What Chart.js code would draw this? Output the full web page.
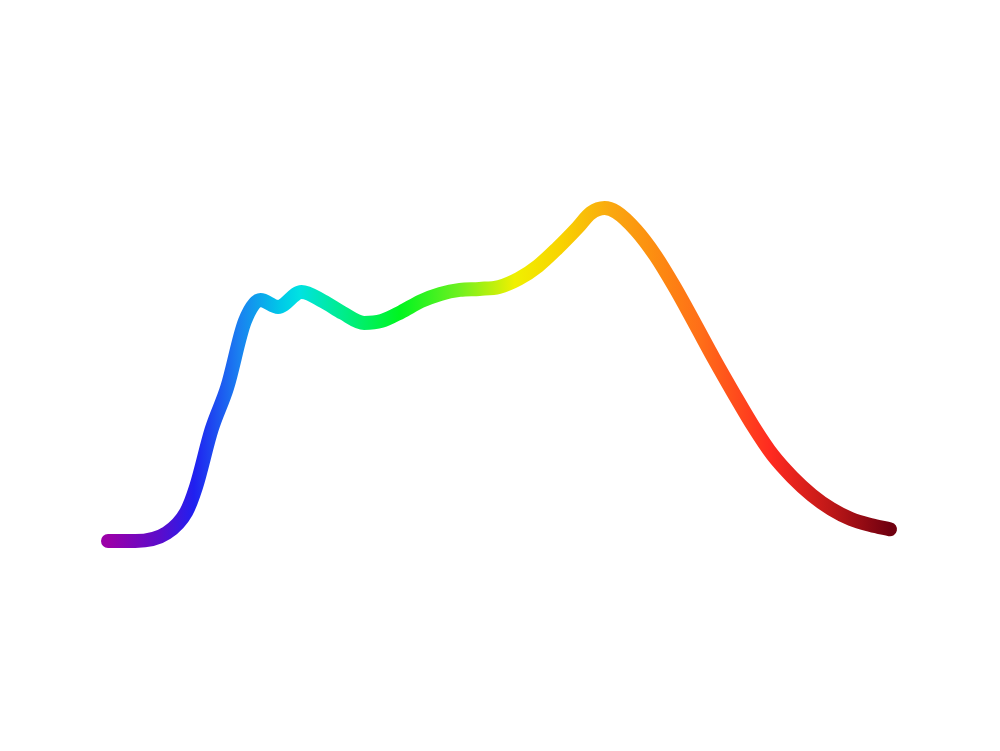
<!DOCTYPE html>
<html>
<head>
<meta charset="utf-8">
<script src="https://cdn.jsdelivr.net/npm/chart.js@4"></script>
<style>
  html, body { margin: 0; padding: 0; background: #ffffff; }
  #wrap { width: 1000px; height: 751px; }
</style>
</head>
<body>
<div id="wrap"><canvas id="spectrumChart"></canvas></div>
<script>
// Wavelengths (nm) and relative intensity
const wavelengths = [380, 394, 410, 420, 425, 433, 441, 450, 458, 467, 479, 490, 500, 511, 520, 530, 540, 550, 560, 570, 580, 590, 600, 610, 620, 627, 634, 640, 650, 660, 670, 680, 690, 700, 710, 720, 730, 740, 750, 760, 770, 780];
const intensity = [0, 0, 0.024, 0.087, 0.162, 0.335, 0.462, 0.66, 0.724, 0.703, 0.748, 0.72, 0.685, 0.655, 0.661, 0.688, 0.72, 0.742, 0.754, 0.757, 0.763, 0.787, 0.826, 0.88, 0.94, 0.985, 1.0, 0.988, 0.934, 0.857, 0.761, 0.655, 0.547, 0.444, 0.345, 0.258, 0.192, 0.138, 0.096, 0.066, 0.048, 0.035];

// Spectrum colours along the line
const stopWavelengths = [380, 407, 424, 447, 468, 478, 499, 529, 560, 588, 611, 637, 657, 683, 719, 749, 780];
const stopColors = ['#9a00a8', '#5a0ccc', '#2020f0', '#1a80f0', '#00c8e8', '#00e2e2', '#00ec90', '#00f520', '#70f020', '#f0f000', '#f8d400', '#faa810', '#fc9010', '#ff6e18', '#ff2a20', '#c01818', '#700010'];

function spectrumGradient(context) {
  const chart = context.chart;
  const area = chart.chartArea;
  if (!area) return '#ff0000';
  const g = chart.ctx.createLinearGradient(area.left, 0, area.right, 0);
  const min = wavelengths[0];
  const max = wavelengths[wavelengths.length - 1];
  stopWavelengths.forEach((w, i) => {
    g.addColorStop((w - min) / (max - min), stopColors[i]);
  });
  return g;
}

const ctx = document.getElementById('spectrumChart').getContext('2d');
new Chart(ctx, {
  type: 'line',
  data: {
    datasets: [{
      data: wavelengths.map((w, i) => ({ x: w, y: intensity[i] })),
      borderColor: spectrumGradient,
      borderWidth: 14,
      borderCapStyle: 'round',
      borderJoinStyle: 'round',
      cubicInterpolationMode: 'monotone',
      pointRadius: 0,
      fill: false,
      clip: false
    }]
  },
  options: {
    responsive: true,
    maintainAspectRatio: false,
    animation: false,
    layout: {
      padding: { left: 108, right: 110, top: 208, bottom: 210 }
    },
    plugins: {
      legend: { display: false },
      tooltip: { enabled: false }
    },
    scales: {
      x: { type: 'linear', min: 380, max: 780, display: false },
      y: { min: 0, max: 1, display: false }
    }
  }
});
</script>
</body>
</html>
